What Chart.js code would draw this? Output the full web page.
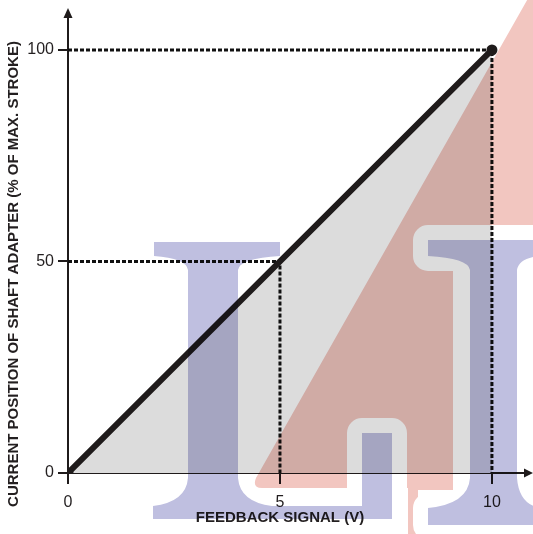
<!DOCTYPE html>
<html><head><meta charset="utf-8">
<script src="https://cdn.jsdelivr.net/npm/chart.js@4/dist/chart.umd.min.js"></script>
<style>html,body{margin:0;padding:0;background:#fff;}#wrap{width:533px;height:534px;position:relative;}</style>
</head><body><div id="wrap"><canvas id="c"></canvas></div>
<script>
// ---- data ----
const signalV = [0, 5, 10];
const strokePct = [0, 50, 100];
const markerShown = [true, false, true];
const guideX = [5, 10];
const guideY = [50, 100];
const xTicks = [0, 5, 10];
const yTicks = [0, 50, 100];
const xTitle = 'FEEDBACK SIGNAL (V)';
const yTitle = 'CURRENT POSITION OF SHAFT ADAPTER (% OF MAX. STROKE)';
const xMax = 10.78;
const yMax = 107.8;

const INK = '#1f1b1b';
const FONT = '"Liberation Sans", Arial, sans-serif';

const datasets = [{
  label: 'position',
  data: signalV.map((x, i) => ({x, y: strokePct[i]})),
  borderColor: INK,
  borderWidth: 6,
  backgroundColor: '#dcdcdc',
  fill: 'origin',
  pointRadius: markerShown.map(s => s ? 5.5 : 0),
  pointBackgroundColor: INK,
  pointBorderWidth: 0,
  borderCapStyle: 'round',
  tension: 0,
  order: 0
}];
guideX.forEach((gx, i) => {
  datasets.push({
    label: 'guide' + i,
    data: [{x: 0, y: guideY[i]}, {x: gx, y: guideY[i]}, {x: gx, y: 0}],
    borderColor: '#111',
    borderWidth: 3,
    borderDash: [4, 2],
    pointRadius: 0,
    fill: false,
    order: 1
  });
});

function wmBlue(ctx) {
  // left I
  ctx.beginPath();
  ctx.moveTo(154, 242); ctx.lineTo(280, 242); ctx.lineTo(280, 256);
  ctx.quadraticCurveTo(240, 258, 238, 270);
  ctx.lineTo(238, 478);
  ctx.quadraticCurveTo(240, 502, 272, 506);
  ctx.lineTo(392, 506); ctx.lineTo(392, 433); ctx.lineTo(362, 433); ctx.lineTo(362, 506);
  ctx.lineTo(392, 506); ctx.lineTo(392, 519); ctx.lineTo(153, 519); ctx.lineTo(153, 506);
  ctx.quadraticCurveTo(186, 502, 188, 478);
  ctx.lineTo(188, 270);
  ctx.quadraticCurveTo(186, 258, 154, 256);
  ctx.closePath();
  ctx.fill();
  ctx.fillRect(362, 433, 30, 86);
  // right I
  ctx.beginPath();
  ctx.moveTo(428, 240); ctx.lineTo(540, 240); ctx.lineTo(540, 256);
  ctx.quadraticCurveTo(519, 258, 517, 270);
  ctx.lineTo(517, 478);
  ctx.quadraticCurveTo(519, 504, 540, 508);
  ctx.lineTo(540, 525); ctx.lineTo(428, 525); ctx.lineTo(428, 508);
  ctx.quadraticCurveTo(468, 504, 470, 478);
  ctx.lineTo(470, 270);
  ctx.quadraticCurveTo(468, 258, 428, 256);
  ctx.closePath();
  ctx.fill();
}

const watermark = {
  id: 'watermark',
  afterDraw(chart) {
    const c = chart.ctx;
    const ca = chart.chartArea;
    // arrows
    c.save();
    c.fillStyle = INK;
    c.beginPath();
    c.moveTo(ca.left, ca.top - 9); c.lineTo(ca.left - 4.5, ca.top + 1); c.lineTo(ca.left + 4.5, ca.top + 1); c.closePath(); c.fill();
    c.beginPath();
    c.moveTo(ca.right + 8, ca.bottom); c.lineTo(ca.right - 1, ca.bottom - 4.5); c.lineTo(ca.right - 1, ca.bottom + 4.5); c.closePath(); c.fill();
    // titles
    c.fillStyle = '#231f20';
    c.font = 'bold 15px ' + FONT;
    c.textAlign = 'center'; c.textBaseline = 'middle';
    c.fillText(xTitle, 280, 518);
    c.translate(14, 274); c.rotate(-Math.PI / 2);
    c.fillText(yTitle, 0, 0);
    c.restore();

    // watermark layer
    const w = chart.width, h = chart.height;
    const off = document.createElement('canvas');
    off.width = w; off.height = h;
    const o = off.getContext('2d');
    o.fillStyle = '#f2c6c0';
    o.beginPath();
    o.moveTo(262, 488); o.quadraticCurveTo(252, 488, 256, 478);
    o.lineTo(530, -5); o.lineTo(545, -5); o.lineTo(545, 230); o.lineTo(453, 230);
    o.lineTo(453, 490); o.lineTo(418, 490); o.lineTo(418, 540); o.lineTo(408, 540); o.lineTo(408, 488);
    o.closePath(); o.fill();
    // halos
    o.globalCompositeOperation = 'destination-out';
    o.fillStyle = '#000'; o.strokeStyle = '#000'; o.lineWidth = 30; o.lineJoin = 'round';
    o.save(); wmBlue(o); o.restore();
    o.beginPath();
    o.rect(428, 240, 112, 16); o.rect(470, 256, 47, 252); o.rect(428, 508, 112, 17); o.rect(362, 433, 30, 86);
    o.rect(153, 506, 239, 13);
    o.stroke();
    o.globalCompositeOperation = 'source-over';
    o.fillStyle = '#bfbfe0';
    wmBlue(o);

    c.save();
    c.globalCompositeOperation = 'multiply';
    c.filter = 'blur(0.7px)';
    c.drawImage(off, 0, 0);
    c.restore();
  }
};

new Chart(document.getElementById('c'), {
  type: 'line',
  data: {datasets},
  plugins: [watermark],
  options: {
    responsive: true,
    maintainAspectRatio: false,
    devicePixelRatio: 1,
    animation: false,
    layout: {padding: {top: 17, right: 8, left: 0, bottom: 0}},
    plugins: {
      legend: {display: false},
      tooltip: {enabled: false},
      filler: {drawTime: 'beforeDatasetsDraw'}
    },
    scales: {
      x: {
        type: 'linear', min: 0, max: xMax,
        afterBuildTicks: s => { s.ticks = xTicks.map(v => ({value: v})); },
        afterFit: s => { s.height = 61; },
        ticks: {font: {family: FONT, size: 16}, color: '#231f20', padding: 9, autoSkip: false, maxRotation: 0},
        grid: {drawOnChartArea: false, drawTicks: true, tickLength: 11, color: INK, lineWidth: 2},
        border: {display: true, color: INK, width: 2}
      },
      y: {
        type: 'linear', min: 0, max: yMax,
        afterBuildTicks: s => { s.ticks = yTicks.map(v => ({value: v})); },
        afterFit: s => { s.width = 68; },
        ticks: {font: {family: FONT, size: 16}, color: '#231f20', padding: 4, autoSkip: false},
        grid: {drawOnChartArea: false, drawTicks: true, tickLength: 10, color: INK, lineWidth: 2},
        border: {display: true, color: INK, width: 2}
      }
    }
  }
});
</script>
</body></html>
